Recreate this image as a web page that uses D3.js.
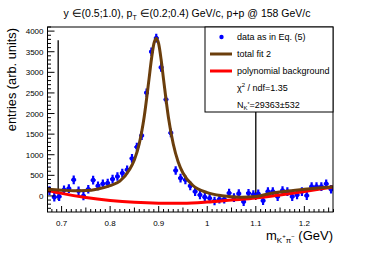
<!DOCTYPE html>
<html>
<head>
<meta charset="utf-8">
<script src="https://cdn.jsdelivr.net/npm/d3@7"></script>
<style>
  body { margin: 0; background: #fff; }
  svg { display: block; font-family: 'Liberation Sans', Arial, sans-serif; }
</style>
</head>
<body>
<svg id="chart" width="374" height="253"></svg>
<script>
// ── data ──
const binCentres = [
  0.675, 0.685, 0.695, 0.705, 0.715, 0.725, 0.735, 0.745, 0.755, 0.765,
  0.775, 0.785, 0.795, 0.805, 0.815, 0.825, 0.835, 0.845, 0.855, 0.865,
  0.875, 0.885, 0.895, 0.905, 0.915, 0.925, 0.935, 0.945, 0.955, 0.965,
  0.975, 0.985, 0.995, 1.005, 1.015, 1.025, 1.035, 1.045, 1.055, 1.065,
  1.075, 1.085, 1.095, 1.105, 1.115, 1.125, 1.135, 1.145, 1.155, 1.165,
  1.175, 1.185, 1.195, 1.205, 1.215, 1.225, 1.235, 1.245, 1.255
];
const entries = [
  130, -30, -15, 146, 178, 390, 122, 0, 163, 383,
  244, 293, 310, 407, 471, 554, 634, 910, 1188, 1464,
  2505, 3500, 3830, 3120, 2340, 1530, 617, 432, 390, 244,
  105, 24, -30, -56, -122, -80, -80, 70, -40, 55,
  -139, 66, 35, 50, -115, 105, 105, -16, 130, 105,
  -16, 24, 105, 8, 227, 227, 227, 293, 163
];
const entryErr = 105;     // vertical error bar half size
const binHalf = 0.005;    // horizontal error bar half size

const fitX = [0.670, 0.700, 0.725, 0.750, 0.775, 0.800, 0.820, 0.840, 0.850, 0.860,
  0.870, 0.880, 0.885, 0.890, 0.895, 0.900, 0.905, 0.910, 0.920, 0.930,
  0.940, 0.950, 0.970, 1.000, 1.030, 1.070, 1.100, 1.130, 1.160, 1.200, 1.259];
const fitY = [165, 140, 125, 130, 170, 250, 360, 640, 880, 1270,
  1910, 2830, 3310, 3690, 3830, 3690, 3310, 2830, 1910, 1260,
  830, 556, 259, 80, 5, -30, -15, 60, 110, 160, 225];

const bgX = [0.670, 0.700, 0.750, 0.800, 0.850, 0.900, 0.950, 1.000, 1.050, 1.100, 1.150, 1.200, 1.259];
const bgY = [140, 62, -40, -110, -155, -175, -178, -150, -100, -50, 25, 110, 220];

const rangeLines = [0.693, 1.1];   // fit range markers
const rangeLo = -100, rangeHi = 3780;

const yTicks = [0, 500, 1000, 1500, 2000, 2500, 3000, 3500, 4000];
const xTicks = [0.7, 0.8, 0.9, 1.0, 1.1, 1.2];
const xTickLabels = ['0.7', '0.8', '0.9', '1', '1.1', '1.2'];

// ── layout ──
const svg = d3.select('#chart');
const L = 47.5, R = 333, T = 27, B = 212;
const x = d3.scaleLinear([0.671, 1.259], [L, R]);
const y = d3.scaleLinear([-390, 4100], [B, T]);

const BLUE = '#0000ff', BROWN = '#6b3e0c', RED = '#ff0000';

// title
const title = svg.append('text')
  .attr('x', 187).attr('y', 17).attr('text-anchor', 'middle')
  .attr('font-size', 10.5).attr('fill', '#000');
title.append('tspan').text('y \u2208(0.5;1.0), p');
title.append('tspan').attr('font-size', 7).attr('dy', 3).text('T');
title.append('tspan').attr('dy', -3).text(' \u2208(0.2;0.4) GeV/c, p+p @ 158 GeV/c');

// clip for the plot area
svg.append('clipPath').attr('id', 'clip')
  .append('rect').attr('x', L).attr('y', T).attr('width', R - L).attr('height', B - T);
const plot = svg.append('g').attr('clip-path', 'url(#clip)');

// range markers
rangeLines.forEach(v => {
  plot.append('line')
    .attr('x1', x(v)).attr('x2', x(v)).attr('y1', y(rangeLo)).attr('y2', y(rangeHi))
    .attr('stroke', '#000').attr('stroke-width', 1.3);
});

// data points with error bars
const pts = plot.append('g');
binCentres.forEach((c, i) => {
  const v = entries[i];
  pts.append('line')
    .attr('x1', x(c)).attr('x2', x(c)).attr('y1', y(v - entryErr)).attr('y2', y(v + entryErr))
    .attr('stroke', BLUE).attr('stroke-width', 2.2);
  pts.append('line')
    .attr('x1', x(c - binHalf)).attr('x2', x(c + binHalf)).attr('y1', y(v)).attr('y2', y(v))
    .attr('stroke', BLUE).attr('stroke-width', 2.2);
  pts.append('circle').attr('cx', x(c)).attr('cy', y(v)).attr('r', 2.3).attr('fill', BLUE);
});

// curves
const line = d3.line().x(d => x(d[0])).y(d => y(d[1])).curve(d3.curveMonotoneX);
plot.append('path')
  .attr('d', line(bgX.map((v, i) => [v, bgY[i]])))
  .attr('fill', 'none').attr('stroke', RED).attr('stroke-width', 3);
plot.append('path')
  .attr('d', line(fitX.map((v, i) => [v, fitY[i]])))
  .attr('fill', 'none').attr('stroke', BROWN).attr('stroke-width', 3);

// frame
svg.append('rect').attr('x', L).attr('y', T).attr('width', R - L).attr('height', B - T)
  .attr('fill', 'none').attr('stroke', '#000').attr('stroke-width', 1);

// y ticks (inside)
const yMinor = d3.range(-300, 4101, 100);
yMinor.forEach(v => {
  const major = v % 500 === 0;
  svg.append('line').attr('x1', L).attr('x2', L + (major ? 7 : 3.5))
    .attr('y1', y(v)).attr('y2', y(v)).attr('stroke', '#000').attr('stroke-width', 1);
});
yTicks.forEach(v => {
  svg.append('text').attr('x', 43.5).attr('y', y(v) + 3)
    .attr('text-anchor', 'end').attr('font-size', 8).text(v);
});

// x ticks (inside)
const xMinor = d3.range(0.68, 1.2601, 0.01);
xMinor.forEach(v => {
  const k = Math.round(v * 100);
  const major = k % 10 === 0;
  const mid = k % 5 === 0;
  svg.append('line').attr('x1', x(v)).attr('x2', x(v))
    .attr('y1', B).attr('y2', B - (major ? 6 : mid ? 4.5 : 3))
    .attr('stroke', '#000').attr('stroke-width', 1);
});
xTicks.forEach((v, i) => {
  svg.append('text').attr('x', x(v)).attr('y', 226)
    .attr('text-anchor', 'middle').attr('font-size', 8).text(xTickLabels[i]);
});

// axis titles
svg.append('text')
  .attr('transform', 'translate(16,28) rotate(-90)')
  .attr('text-anchor', 'end').attr('font-size', 12.8).text('entries (arb. units)');

const xt = svg.append('text').attr('x', 333).attr('y', 240)
  .attr('text-anchor', 'end').attr('font-size', 13);
xt.append('tspan').text('m');
xt.append('tspan').attr('font-size', 8).attr('dy', 3).text('K');
xt.append('tspan').attr('font-size', 6).attr('dy', -5).text('+');
xt.append('tspan').attr('font-size', 8).attr('dy', 5).text('\u03c0');
xt.append('tspan').attr('font-size', 6).attr('dy', -5).text('\u2212');
xt.append('tspan').attr('dy', 2).text(' (GeV)');

// legend
const lg = svg.append('g');
lg.append('rect').attr('x', 205).attr('y', 27).attr('width', 128).attr('height', 85)
  .attr('fill', '#fff').attr('stroke', '#000').attr('stroke-width', 1);
const rowY = [37, 54, 71, 88, 104.5];
lg.append('circle').attr('cx', 221.5).attr('cy', rowY[0]).attr('r', 2.2).attr('fill', BLUE);
lg.append('line').attr('x1', 210).attr('x2', 232).attr('y1', rowY[1]).attr('y2', rowY[1])
  .attr('stroke', BROWN).attr('stroke-width', 3);
lg.append('line').attr('x1', 210).attr('x2', 232).attr('y1', rowY[2]).attr('y2', rowY[2])
  .attr('stroke', RED).attr('stroke-width', 3);
const tx = 237;
['data as in Eq. (5)', 'total fit 2', 'polynomial background'].forEach((s, i) => {
  lg.append('text').attr('x', tx).attr('y', rowY[i] + 3).attr('font-size', 9).text(s);
});
const chi = lg.append('text').attr('x', tx).attr('y', rowY[3] + 3).attr('font-size', 9);
chi.append('tspan').text('\u03c7');
chi.append('tspan').attr('font-size', 6).attr('dy', -4).text('2');
chi.append('tspan').attr('dy', 4).text(' / ndf=1.35');
const nk = lg.append('text').attr('x', tx).attr('y', rowY[4] + 3).attr('font-size', 9);
nk.append('tspan').text('N');
nk.append('tspan').attr('font-size', 6).attr('dy', 2.5).text('K');
nk.append('tspan').attr('font-size', 5).attr('dy', -4).text('*');
nk.append('tspan').attr('dy', 1.5).text('=29363\u00b1532');
</script>
</body>
</html>
